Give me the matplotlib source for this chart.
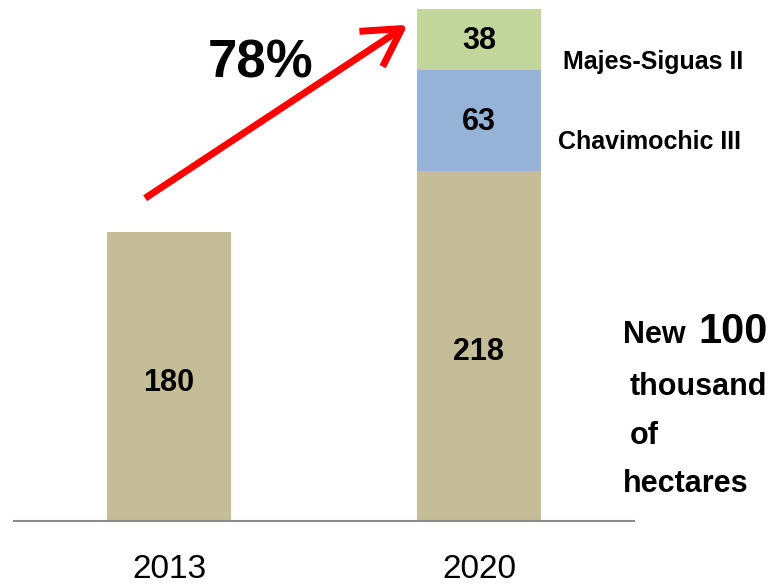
import matplotlib.pyplot as plt
from matplotlib import font_manager

# data
years = ["2013", "2020"]
base = [180, 218]
chavimochic = [0, 63]
majes = [0, 38]
project_names = ["Chavimochic III", "Majes-Siguas II"]
growth_label = "78%"

names = {f.name for f in font_manager.fontManager.ttflist}
fam = "Liberation Sans Narrow" if "Liberation Sans Narrow" in names else "Liberation Sans"
plt.rcParams['font.family'] = [fam, 'DejaVu Sans']

tan = "#C4BD97"
blue = "#95B3D7"
green = "#C3D69B"

fig = plt.figure(figsize=(7.81, 5.87), dpi=100)
ax = fig.add_axes([14 / 781, 66 / 587, 620 / 781, 521 / 587])
x = [0, 1]
ax.bar(x, base, width=0.4, color=tan)
ax.bar(x[1], chavimochic[1], bottom=base[1], width=0.4, color=blue)
ax.bar(x[1], majes[1], bottom=base[1] + chavimochic[1], width=0.4, color=green)
ax.set_xlim(-0.5, 1.5)
ax.set_ylim(0, 324.4)

for s in ["top", "right", "left"]:
    ax.spines[s].set_visible(False)
ax.spines["bottom"].set_color("#8c8c8c")
ax.spines["bottom"].set_linewidth(1.5)
ax.set_yticks([])
ax.set_xticks(x)
ax.set_xticklabels(years, fontsize=24)
ax.tick_params(axis="x", length=0, pad=24)

ax.text(0, base[0] / 2 - 4, str(base[0]), ha="center", va="center", fontsize=22, fontweight="bold")
ax.text(1, base[1] / 2 - 4, str(base[1]), ha="center", va="center", fontsize=22, fontweight="bold")
ax.text(1, base[1] + chavimochic[1] / 2 - 1, str(chavimochic[1]), ha="center", va="center",
        fontsize=22, fontweight="bold")
ax.text(1, base[1] + chavimochic[1] + majes[1] / 2 - 1, str(majes[1]), ha="center", va="center",
        fontsize=22, fontweight="bold")

# project labels
ax.text(1.255, 236, project_names[0], ha="left", va="center",
        fontsize=18, fontweight="bold")
ax.text(1.271, 286, project_names[1], ha="left", va="center",
        fontsize=18, fontweight="bold")

# arrow and growth label
ax.annotate("", xy=(0.77, 309), xytext=(-0.077, 201),
            arrowprops=dict(arrowstyle="->,head_length=0.7,head_width=0.4", color="red", lw=5,
                            mutation_scale=38, shrinkA=0, shrinkB=0,
                            capstyle="butt", joinstyle="round"))
ax.text(0.295, 285, growth_label, ha="center", va="center", fontsize=38, fontweight="bold")

# side note
fig.text(623 / 781, 1 - 343 / 587, "New", fontsize=22, fontweight="bold", va="baseline")
fig.text(698 / 781, 1 - 343 / 587, "100", fontsize=30, fontweight="bold", va="baseline")
fig.text(630 / 781, 1 - 395 / 587, "thousand", fontsize=22, fontweight="bold", va="baseline")
fig.text(630 / 781, 1 - 444 / 587, "of", fontsize=22, fontweight="bold", va="baseline")
fig.text(623 / 781, 1 - 492 / 587, "hectares", fontsize=22, fontweight="bold", va="baseline")

fig.savefig("out.png", dpi=100)
